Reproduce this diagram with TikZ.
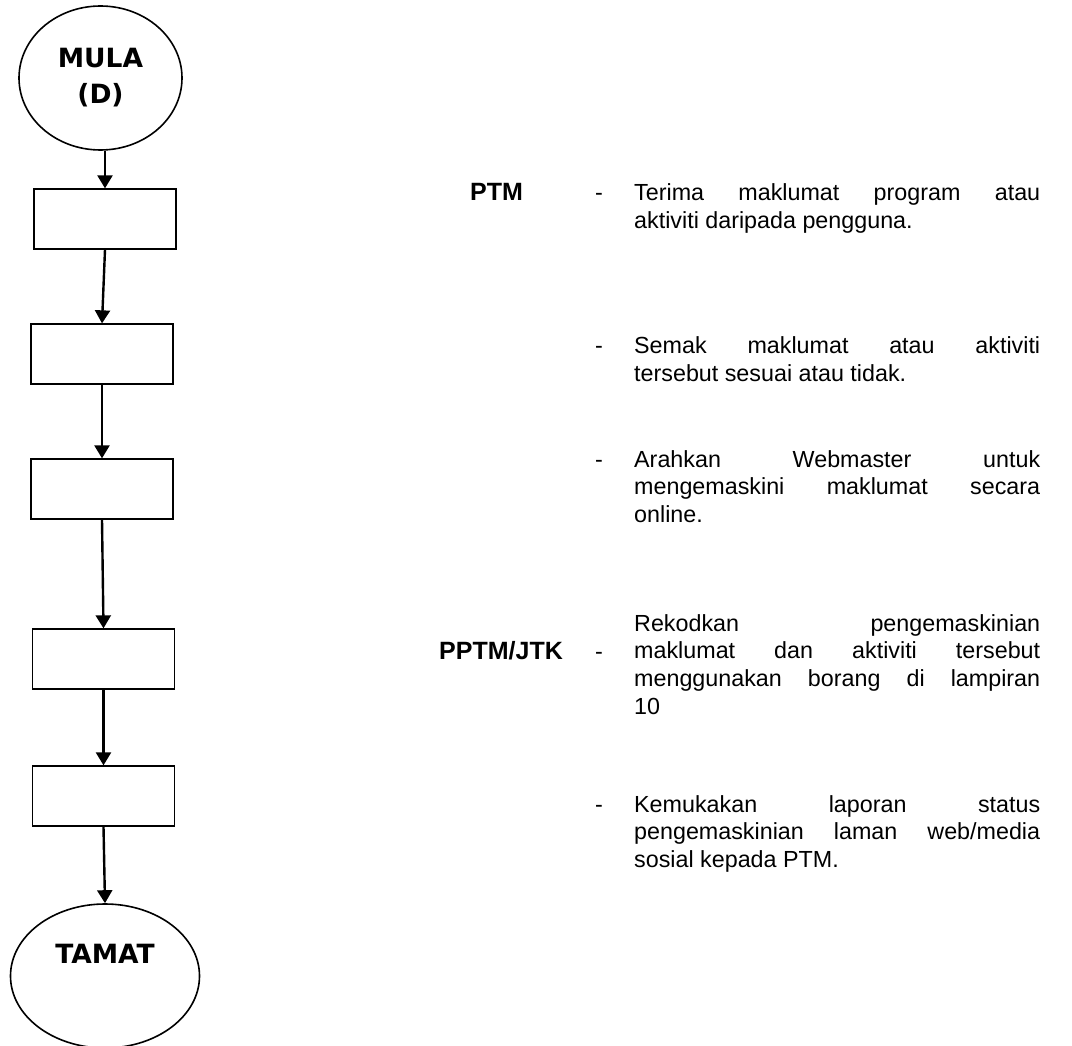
\documentclass[tikz,border=0pt]{standalone}
\usepackage{fontspec}
\setmainfont{Liberation Sans}
\newfontfamily\headfont{DejaVu Sans}
\usetikzlibrary{arrows.meta,shapes.geometric}
\newcommand\jpara[1]{\parbox[t]{406pt}{\fontsize{23.3}{27.8}\selectfont\tolerance=10000\hbadness=10000\hyphenpenalty=10000\parindent=0pt #1}}
\tikzset{
  stepbox/.style={draw, line width=1.3pt, minimum width=142pt, minimum height=60pt, inner sep=0pt},
  term/.style={draw, ellipse, line width=1.6pt, inner sep=0pt, font=\headfont\bfseries\fontsize{26.5}{36}\selectfont, align=center},
  arr/.style={line width=2.4pt, -{Triangle[width=15pt,length=13pt]}},
  txt/.style={anchor=base west, inner sep=0pt},
  lbl/.style={anchor=base west, inner sep=0pt, font=\fontsize{25}{30}\selectfont\bfseries},
  hy/.style={anchor=base, inner sep=0pt, font=\fontsize{23.3}{27.8}\selectfont}
}
\begin{document}
\begin{tikzpicture}[x=1pt,y=-1pt]
\useasboundingbox (0,0) rectangle (1072,1046);
\fill[white] (0,0) rectangle (1072,1046);
\clip (0,0) rectangle (1072,1046);

% flow chart
\node[term, minimum width=163pt, minimum height=144pt] (mula) at (100.5,78) {MULA\\(D)};
\node[stepbox] (b1) at (105,219) {};
\node[stepbox] (b2) at (102,354) {};
\node[stepbox] (b3) at (102,489) {};
\node[stepbox] (b4) at (103.5,659) {};
\node[stepbox] (b5) at (103.5,796) {};
\node[term, minimum width=189pt, minimum height=144pt] (tamat) at (105,976) {};
\node[inner sep=0pt, font=\headfont\bfseries\fontsize{26.5}{36}\selectfont] (tamatlbl) at (105,954) {TAMAT};

\draw[arr] (b1.north |- mula.south) -- (b1.north);
\draw[arr] (b1.south) -- (b2.north);
\draw[arr] (b2.south) -- (b3.north);
\draw[arr] (b3.south) -- (b4.north);
\draw[arr] (b4.south) -- (b5.north);
\draw[arr] (b5.south) -- (tamat.north);

% responsibility labels
\node[lbl] (ptm) at (470,200.5) {PTM};
\node[lbl] (pptm) at (439,659) {PPTM/JTK};

% dashes
\node[hy] (d1) at (599,200.5) {-};
\node[hy] (d2) at (599,353.5) {-};
\node[hy] (d3) at (599,467) {-};
\node[hy] (d4) at (599,659) {-};
\node[hy] (d5) at (599,812) {-};

% descriptions
\node[txt] (t1) at (634,200.5) {\jpara{Terima maklumat program atau\linebreak aktiviti daripada pengguna.}};
\node[txt] (t2) at (634,353.5) {\jpara{Semak maklumat atau aktiviti\linebreak tersebut sesuai atau tidak.}};
\node[txt] (t3) at (634,467) {\jpara{Arahkan Webmaster untuk\linebreak mengemaskini maklumat secara\linebreak online.}};
\node[txt] (t4) at (634,631) {\jpara{Rekodkan pengemaskinian\linebreak maklumat dan aktiviti tersebut\linebreak menggunakan borang di lampiran\linebreak 10}};
\node[txt] (t5) at (634,812) {\jpara{Kemukakan laporan status\linebreak pengemaskinian laman web/media\linebreak sosial kepada PTM.}};
\end{tikzpicture}
\end{document}
